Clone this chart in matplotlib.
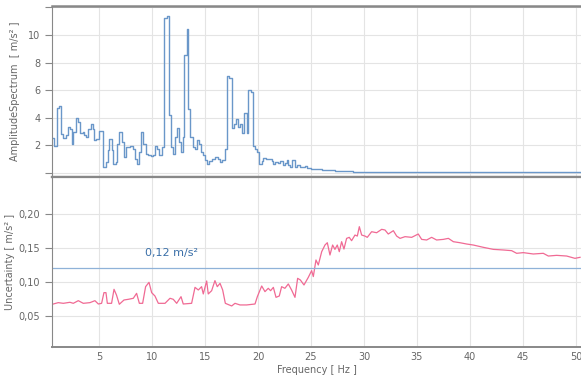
import matplotlib
matplotlib.use("Agg")
import matplotlib.pyplot as plt

# ---- Data: amplitude spectrum (step, left edges in Hz) ----
amp_freq = [0.60, 0.79, 1.01, 1.20, 1.41, 1.64, 1.85, 2.11, 2.26, 2.42, 2.58, 2.83,
            3.05, 3.21, 3.45, 3.60, 3.77, 3.99, 4.21, 4.40, 4.56, 4.75, 4.99, 5.41,
            5.66, 5.82, 5.97, 6.19, 6.35, 6.57, 6.73, 6.92, 7.14, 7.36, 7.55, 7.92,
            8.20, 8.40, 8.55, 8.81, 8.99, 9.18, 9.40, 9.65, 9.90, 10.10, 10.28, 10.50,
            10.69, 10.91, 11.16, 11.38, 11.60, 11.79, 11.95, 12.14, 12.33, 12.52, 12.70,
            12.89, 13.05, 13.27, 13.43, 13.62, 13.84, 14.05, 14.21, 14.43, 14.62, 14.78,
            15.00, 15.22, 15.40, 15.63, 15.94, 16.20, 16.42, 16.65, 16.89, 17.04, 17.30,
            17.52, 17.74, 17.92, 18.14, 18.30, 18.52, 18.68, 18.93, 19.09, 19.31, 19.50,
            19.72, 19.94, 20.13, 20.35, 20.50, 20.80, 21.05, 21.29, 21.45, 21.65, 21.90,
            22.10, 22.35, 22.55, 22.70, 22.85, 23.00, 23.25, 23.45, 23.65, 24.00, 24.40,
            24.60, 25.00, 25.50, 26.00, 26.50, 27.00, 27.30, 28.00, 29.00, 30.00, 32.00,
            35.00, 40.00, 45.00, 50.50]
amp_vals = [2.56, 1.93, 4.74, 4.84, 2.85, 2.53, 2.75, 3.33, 3.21, 2.12, 2.97, 4.01,
            3.70, 2.90, 2.95, 2.73, 2.61, 3.21, 3.53, 3.21, 2.36, 2.49, 3.04, 0.42,
            0.79, 1.64, 2.49, 1.64, 0.67, 0.79, 2.12, 2.97, 2.24, 1.15, 1.88, 1.93,
            1.76, 1.03, 0.67, 1.52, 2.97, 2.12, 1.35, 1.27, 1.20, 1.27, 1.93, 1.76,
            1.27, 1.88, 11.21, 11.38, 4.18, 1.88, 1.39, 2.61, 3.26, 2.24, 1.52,
            2.61, 8.55, 10.41, 4.67, 2.61, 1.88, 1.76, 2.36, 2.12, 1.52, 1.27,
            0.91, 0.67, 0.85, 1.03, 1.15, 1.00, 0.79, 0.91, 1.76, 7.02, 6.92,
            3.26, 3.58, 3.94, 3.33, 3.58, 2.90, 4.35, 2.90, 6.00, 5.88, 1.97,
            1.76, 1.52, 0.67, 0.85, 1.10, 1.03, 1.00, 0.85, 0.67, 0.80, 0.70,
            0.85, 0.60, 0.75, 0.96, 0.55, 0.45, 0.96, 0.40, 0.55, 0.45, 0.50,
            0.38, 0.30, 0.25, 0.20, 0.18, 0.22, 0.14, 0.12, 0.10, 0.07, 0.06,
            0.06, 0.05, 0.05, 0.05]

# ---- Data: uncertainty curve ----
unc_freq = [0.60, 1.16, 1.64, 2.26, 2.58, 3.05, 3.52, 4.15, 4.62, 4.94, 5.25, 5.47,
            5.66, 5.79, 6.19, 6.42, 6.65, 6.92, 7.36, 7.77, 8.24, 8.55, 8.81, 9.12,
            9.40, 9.72, 9.97, 10.28, 10.60, 11.23, 11.70, 12.01, 12.33, 12.74, 12.95,
            13.74, 14.06, 14.37, 14.68, 14.84, 15.16, 15.31, 15.63, 15.94, 16.16, 16.42,
            16.67, 16.92, 17.52, 17.83, 18.30, 18.93, 19.72, 19.94, 20.35, 20.66, 20.97,
            21.19, 21.45, 21.70, 22.01, 22.23, 22.54, 22.86, 23.17, 23.49, 23.74, 24.0,
            24.34, 24.75, 25.06, 25.22, 25.47, 25.69, 26.01, 26.32, 26.54, 26.79, 27.04,
            27.26, 27.48, 27.67, 27.89, 28.11, 28.36, 28.61, 28.83, 29.15, 29.37, 29.56,
            29.78, 30.09, 30.31, 30.72, 31.19, 31.67, 31.98, 32.29, 32.77, 33.08, 33.40,
            33.87, 34.50, 35.12, 35.44, 35.91, 36.38, 36.85, 37.48, 37.96, 38.43, 39.05,
            39.68, 40.31, 41.26, 42.20, 43.14, 43.93, 44.40, 45.03, 45.97, 46.91, 47.39,
            48.17, 49.12, 49.90, 50.38]
unc_vals = [0.0672, 0.0696, 0.0686, 0.0701, 0.0686, 0.0725, 0.0686, 0.0696, 0.0725, 0.0676,
            0.0686, 0.0843, 0.0843, 0.0686, 0.0686, 0.0892, 0.0809, 0.0672, 0.0735, 0.0745,
            0.0760, 0.0833, 0.0686, 0.0686, 0.0931, 0.0995, 0.0843, 0.0794, 0.0686, 0.0686,
            0.0760, 0.0745, 0.0686, 0.0784, 0.0676, 0.0686, 0.0921, 0.0882, 0.0931, 0.0824,
            0.1015, 0.0824, 0.0872, 0.1020, 0.0931, 0.0980, 0.0882, 0.0686, 0.0647, 0.0686,
            0.0662, 0.0662, 0.0676, 0.0784, 0.0941, 0.0858, 0.0907, 0.0872, 0.0921, 0.0774,
            0.0794, 0.0931, 0.0907, 0.0971, 0.0882, 0.0774, 0.1054, 0.1029, 0.0956, 0.1069,
            0.1167, 0.1080, 0.1324, 0.1250, 0.1446, 0.1544, 0.1578, 0.1397, 0.1544, 0.1480,
            0.1544, 0.1446, 0.1593, 0.1485, 0.1642, 0.1657, 0.1608, 0.1691, 0.1676, 0.1814,
            0.1691, 0.1676, 0.1657, 0.1740, 0.1725, 0.1775, 0.1765, 0.1706, 0.1755, 0.1676,
            0.1642, 0.1667, 0.1657, 0.1706, 0.1627, 0.1618, 0.1657, 0.1618, 0.1627, 0.1642,
            0.1593, 0.1578, 0.1559, 0.1544, 0.1510, 0.1480, 0.1471, 0.1461, 0.1422, 0.1432,
            0.1412, 0.1422, 0.1382, 0.1392, 0.1382, 0.1348, 0.1363]

threshold = 0.12
threshold_label = "0,12 m/s²"
x_ticks = [5, 10, 15, 20, 25, 30, 35, 40, 45, 50]
amp_ticks = [0, 2, 4, 6, 8, 10, 12]
amp_tick_labels = ["", "2", "4", "6", "8", "10", ""]
unc_ticks = [0.05, 0.10, 0.15, 0.20]
unc_tick_labels = ["0,05", "0,10", "0,15", "0,20"]

plt.rcParams['font.family'] = ['DejaVu Sans']
fig = plt.figure(figsize=(5.81, 3.80), dpi=100)
ax1 = fig.add_axes([0.0895, 0.534, 0.9105, 0.450])
ax2 = fig.add_axes([0.0895, 0.087, 0.9105, 0.447])

xlim = (0.57, 50.47)
grid_c = '#e4e4e4'
spine_c = '#888888'
tick_c = '#666666'

for ax in (ax1, ax2):
    ax.set_xlim(*xlim)
    ax.set_xticks(x_ticks)
    ax.grid(True, color=grid_c, linewidth=0.8)
    ax.set_axisbelow(True)
    ax.spines['right'].set_visible(False)
    for s in ('left', 'top', 'bottom'):
        ax.spines[s].set_color(spine_c)
    ax.tick_params(axis='y', colors=spine_c, labelcolor=tick_c, labelsize=7, length=5, width=0.8)
    ax.tick_params(axis='x', length=0, labelcolor=tick_c, labelsize=7)

# top
ax1.step(amp_freq, amp_vals, where='post', color='#6a97c9', linewidth=1.0)
ax1.set_ylim(-0.3, 12.1)
ax1.set_yticks(amp_ticks)
ax1.set_yticklabels(amp_tick_labels)
ax1.tick_params(axis='x', labelbottom=False)
ax1.spines['top'].set_linewidth(1.8)
ax1.spines['bottom'].set_linewidth(1.6)
ax1.set_ylabel("AmplitudeSpectrum  [ m/s² ]", fontsize=7, color=tick_c)
ax1.yaxis.set_label_coords(-0.060, 0.5)

# bottom
ax2.plot(unc_freq, unc_vals, color='#f06a94', linewidth=0.9)
ax2.axhline(threshold, color='#8fb2d8', linewidth=0.9)
ax2.text(11.8, 0.143, threshold_label, color='#3a6fa8', fontsize=8,
         ha='center', va='center')
ax2.set_ylim(0.0044, 0.2544)
ax2.set_yticks(unc_ticks)
ax2.set_yticklabels(unc_tick_labels)
ax2.spines['top'].set_linewidth(1.6)
ax2.spines['bottom'].set_linewidth(1.4)
ax2.set_ylabel("Uncertainty [ m/s² ]", fontsize=7, color=tick_c)
ax2.yaxis.set_label_coords(-0.070, 0.5)
ax2.set_xlabel("Frequency [ Hz ]", fontsize=7, color=tick_c, labelpad=2)

fig.savefig("out.png", dpi=100)
